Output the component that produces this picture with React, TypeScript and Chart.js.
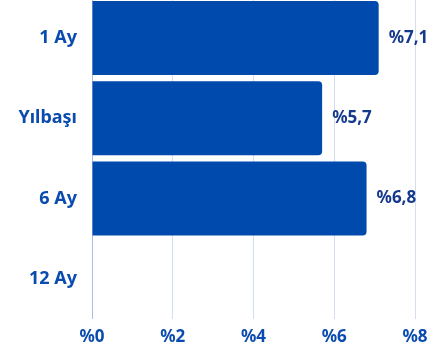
import React, { useEffect, useRef } from "react";
import { Chart, registerables } from "chart.js";

Chart.register(...registerables);

const categories = ["1 Ay", "Yılbaşı", "6 Ay", "12 Ay"];
const values: (number | null)[] = [7.1, 5.7, 6.8, null];
const tickValues = [0, 2, 4, 6, 8];

const BLUE = "#004AAD";
const TEXT = "#0A4BB0";
const LABEL = "#15398C";
const FONT = "'Noto Sans', 'Open Sans', sans-serif";

const fmt = (v: number) => "%" + String(v).replace(".", ",");

const valueLabels = {
  id: "valueLabels",
  afterDatasetsDraw(chart: any) {
    const ctx = chart.ctx;
    const meta = chart.getDatasetMeta(0);
    ctx.save();
    ctx.font = `bold 17px ${FONT}`;
    ctx.fillStyle = LABEL;
    ctx.textAlign = "left";
    ctx.textBaseline = "middle";
    meta.data.forEach((el: any, i: number) => {
      const v = values[i];
      if (v == null) return;
      ctx.fillText(fmt(v), el.x + 10, el.y);
    });
    ctx.restore();
  },
};

export default function App() {
  const ref = useRef<HTMLCanvasElement>(null);
  useEffect(() => {
    const chart = new Chart(ref.current!, {
      type: "bar",
      data: {
        labels: categories,
        datasets: [
          {
            data: values,
            backgroundColor: BLUE,
            borderRadius: 4,
            borderSkipped: "start",
            categoryPercentage: 1,
            barPercentage: 0.92,
          },
        ],
      },
      options: {
        indexAxis: "y",
        animation: false,
        responsive: false,
        maintainAspectRatio: false,
        layout: { padding: { left: 0, right: 25, top: 0, bottom: 0 } },
        plugins: { legend: { display: false }, tooltip: { enabled: false } },
        scales: {
          x: {
            min: 0,
            max: 8,
            afterBuildTicks: (axis: any) => {
              axis.ticks = tickValues.map((v) => ({ value: v }));
            },
            afterFit: (axis: any) => {
              axis.height = 37;
            },
            border: { display: false },
            grid: {
              drawTicks: false,
              color: (c: any) => (c.tick && c.tick.value === 0 ? "#A9BEE6" : "#D3DEF2"),
              lineWidth: 1,
            },
            ticks: {
              padding: 8,
              color: TEXT,
              font: { family: FONT, size: 17, weight: "bold" },
              callback: (v: any) => "%" + v,
            },
          },
          y: {
            afterFit: (axis: any) => {
              axis.width = 92;
            },
            border: { display: false },
            grid: { display: false, drawTicks: false },
            ticks: {
              padding: 15,
              color: TEXT,
              font: { family: FONT, size: 18, weight: "bold" },
            },
          },
        },
      },
      plugins: [valueLabels],
    });
    return () => chart.destroy();
  }, []);
  return (
    <div style={{ position: "fixed", left: 0, top: -28, width: 440, height: 384 }}>
      <canvas ref={ref} width={440} height={384} style={{ display: "block" }} />
    </div>
  );
}
